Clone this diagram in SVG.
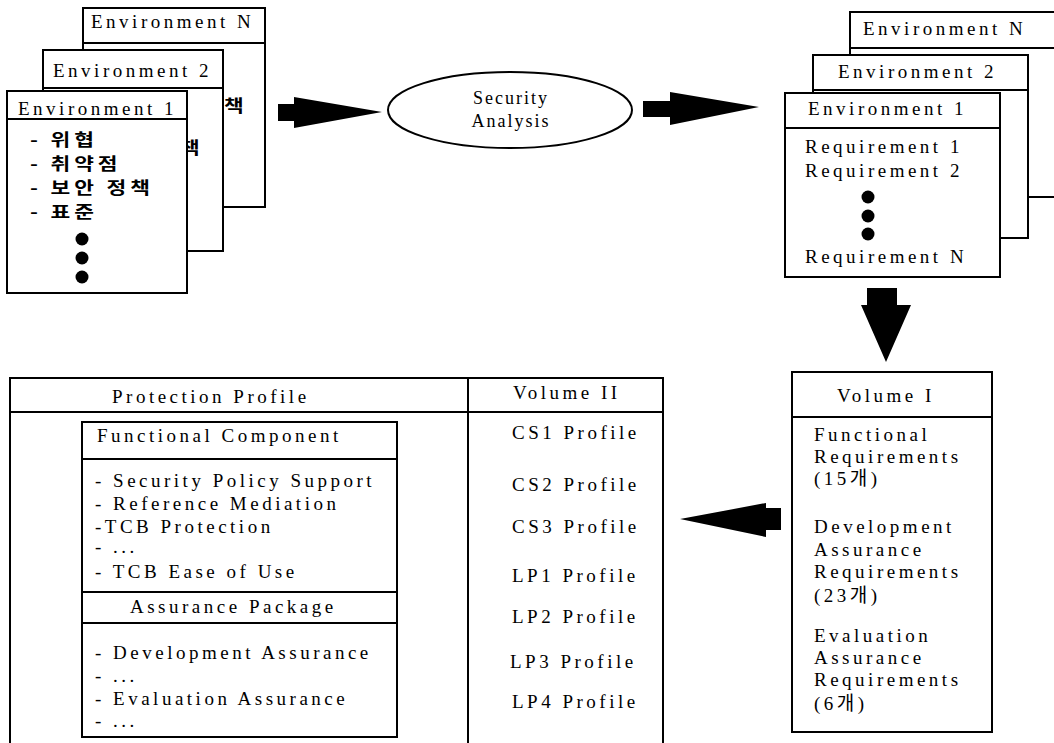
<svg xmlns="http://www.w3.org/2000/svg" width="1054" height="743" viewBox="0 0 1054 743">
<style>
.box{fill:#fff;stroke:#000;stroke-width:2}
.ln{stroke:#000;stroke-width:2;fill:none}
.t{font-family:"Liberation Serif","Noto Sans CJK KR",serif;font-size:19px;letter-spacing:3.5px;fill:#000}
.s{font-family:"Liberation Serif",serif;font-size:18px;letter-spacing:2px;fill:#000}
.k{font-family:"Noto Sans CJK KR",sans-serif;font-size:16.5px;font-weight:700;letter-spacing:3px;fill:#000}
.dot{fill:#000}
.arr{fill:#000}
</style>
<rect width="1054" height="743" fill="#fff"/>

<g id="left-env-n">
<rect class="box" x="83" y="8" width="182" height="199"/>
<line class="ln" x1="83" y1="43" x2="265" y2="43"/>
<text class="t" x="91" y="28">Environment N</text>
<text class="k" transform="translate(224,112) scale(1.3,1)">책</text>
</g>
<g id="left-env-2">
<rect class="box" x="43" y="50" width="180" height="201"/>
<line class="ln" x1="43" y1="88" x2="223" y2="88"/>
<text class="t" x="53" y="77">Environment 2</text>
<text class="k" transform="translate(180,154) scale(1.3,1)">책</text>
</g>
<g id="left-env-1">
<rect class="box" x="7" y="91" width="180" height="202"/>
<line class="ln" x1="7" y1="119" x2="187" y2="119"/>
<text class="t" x="18" y="115">Environment 1</text>
<g transform="translate(30,0) scale(1.3,1)">
<text class="k" x="0" y="146">- 위협</text>
<text class="k" x="0" y="170">- 취약점</text>
<text class="k" x="0" y="194">- 보안 정책</text>
<text class="k" x="0" y="218">- 표준</text>
</g>
<circle class="dot" cx="82" cy="239" r="6.5"/>
<circle class="dot" cx="82" cy="258" r="6.5"/>
<circle class="dot" cx="82" cy="277" r="6.5"/>
</g>

<g id="security-analysis">
<ellipse cx="510" cy="110" rx="122" ry="38" fill="#fff" stroke="#000" stroke-width="2"/>
<text class="s" x="511" y="104" text-anchor="middle">Security</text>
<text class="s" x="511" y="127" text-anchor="middle">Analysis</text>
</g>

<g id="right-env-n">
<rect class="box" x="850" y="12" width="230" height="185"/>
<line class="ln" x1="850" y1="48" x2="1080" y2="48"/>
<text class="t" x="863" y="35">Environment N</text>
</g>
<g id="right-env-2">
<rect class="box" x="813" y="55" width="215" height="183"/>
<line class="ln" x1="813" y1="90" x2="1028" y2="90"/>
<text class="t" x="838" y="78">Environment 2</text>
</g>
<g id="right-env-1">
<rect class="box" x="785" y="93" width="215" height="184"/>
<line class="ln" x1="785" y1="128" x2="1000" y2="128"/>
<text class="t" x="808" y="115">Environment 1</text>
<text class="t" x="805" y="153">Requirement 1</text>
<text class="t" x="805" y="177">Requirement 2</text>
<circle class="dot" cx="868" cy="197" r="6.5"/>
<circle class="dot" cx="868" cy="216" r="6.5"/>
<circle class="dot" cx="868" cy="234" r="6.5"/>
<text class="t" x="805" y="263">Requirement N</text>
</g>

<g id="volume-1">
<rect class="box" x="792" y="372" width="200" height="360"/>
<line class="ln" x1="792" y1="417" x2="992" y2="417"/>
<text class="t" x="837" y="402">Volume I</text>
<text class="t" x="814" y="441">Functional</text>
<text class="t" x="814" y="463">Requirements</text>
<text class="t" x="814" y="485">(15개)</text>
<text class="t" x="814" y="533">Development</text>
<text class="t" x="814" y="556">Assurance</text>
<text class="t" x="814" y="578">Requirements</text>
<text class="t" x="814" y="602">(23개)</text>
<text class="t" x="814" y="642">Evaluation</text>
<text class="t" x="814" y="664">Assurance</text>
<text class="t" x="814" y="686">Requirements</text>
<text class="t" x="814" y="710">(6개)</text>
</g>

<g id="protection-profile-table">
<rect class="box" x="10" y="378" width="653" height="380"/>
<line class="ln" x1="10" y1="412" x2="663" y2="412"/>
<line class="ln" x1="468" y1="378" x2="468" y2="758"/>
<text class="t" x="112" y="403">Protection Profile</text>
<text class="t" x="513" y="399">Volume II</text>
</g>

<g id="volume-2-profiles">
<text class="t" x="512" y="439">CS1 Profile</text>
<text class="t" x="512" y="491">CS2 Profile</text>
<text class="t" x="512" y="533">CS3 Profile</text>
<text class="t" x="512" y="582">LP1 Profile</text>
<text class="t" x="512" y="623">LP2 Profile</text>
<text class="t" x="510" y="668">LP3 Profile</text>
<text class="t" x="512" y="708">LP4 Profile</text>
</g>

<g id="functional-component">
<rect class="box" x="82" y="422" width="315" height="315"/>
<line class="ln" x1="82" y1="459" x2="397" y2="459"/>
<line class="ln" x1="82" y1="592" x2="397" y2="592"/>
<line class="ln" x1="82" y1="623" x2="397" y2="623"/>
<text class="t" x="97" y="442">Functional Component</text>
<text class="t" x="95" y="487">- Security Policy Support</text>
<text class="t" x="95" y="510">- Reference Mediation</text>
<text class="t" x="95" y="533">-TCB Protection</text>
<text class="t" x="95" y="553">- ...</text>
<text class="t" x="95" y="578">- TCB Ease of Use</text>
<text class="t" x="130" y="613">Assurance Package</text>
<text class="t" x="95" y="659">- Development Assurance</text>
<text class="t" x="95" y="682">- ...</text>
<text class="t" x="95" y="705">- Evaluation Assurance</text>
<text class="t" x="95" y="727">- ...</text>
</g>

<g id="connectors">
<polygon class="arr" points="278,104 294,104 294,97 382,112 294,128 294,121 278,121"/>
<polygon class="arr" points="643,101 670,101 670,92 759,107 670,125 670,117 643,117"/>
<polygon class="arr" points="867,288 897,288 897,305 911,305 886,362 861,305 867,305"/>
<polygon class="arr" points="781,508 781,530 766,530 766,537 680,519 766,503 766,508"/>
</g>
</svg>
